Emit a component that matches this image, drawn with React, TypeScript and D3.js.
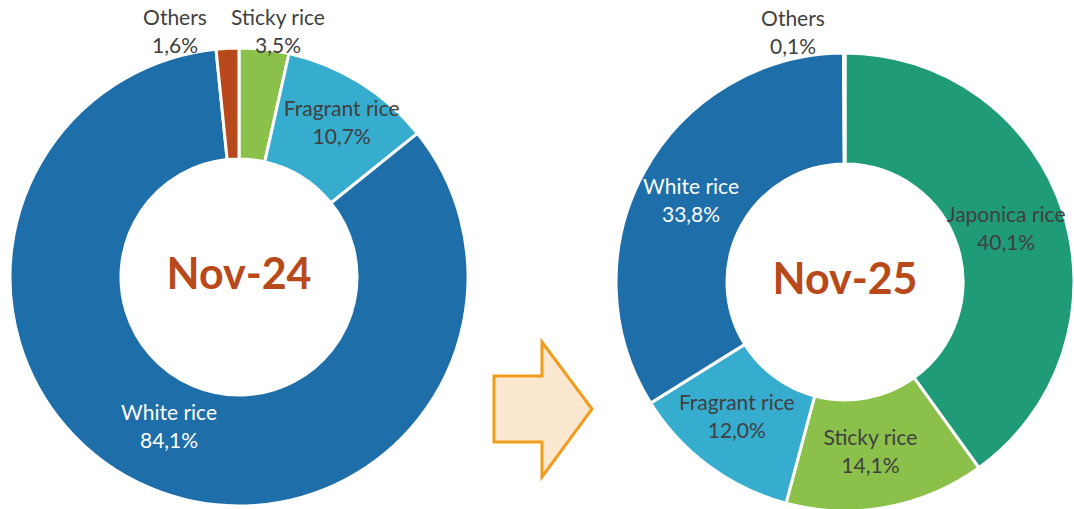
import React from "react";
import * as d3 from "d3";

const categoriesA = ["Sticky rice", "Fragrant rice", "White rice", "Others"];
const valuesA = [3.5, 10.7, 84.1, 1.6];
const categoriesB = ["Japonica rice", "Sticky rice", "Fragrant rice", "White rice", "Others"];
const valuesB = [40.1, 14.1, 12.0, 33.8, 0.1];
const titles = ["Nov-24", "Nov-25"];

const colorMap: Record<string, string> = {
  "Sticky rice": "#8BC04A",
  "Fragrant rice": "#36ADCE",
  "White rice": "#1E6EA9",
  "Others": "#B8491A",
  "Japonica rice": "#1F9B78",
};
const labelColor: Record<string, string> = {
  "White rice": "#FFFFFF",
};
// label layout: small slices are placed outside above the ring (abs), others at centroid + nudge
const outsideLabels: Record<string, Record<string, [number, number]>> = {
  "Nov-24": { "Sticky rice": [39, -17], "Others": [-64, -17] },
  "Nov-25": { "Others": [-52, -21] },
};
const nudges: Record<string, Record<string, [number, number]>> = {
  "Nov-24": { "White rice": [-3, -11], "Fragrant rice": [11, -7] },
  "Nov-25": { "White rice": [-2, 2], "Japonica rice": [-4, 0], "Fragrant rice": [-5, -5], "Sticky rice": [-6, -1] },
};

const FONT = "Lato, 'Open Sans', sans-serif";
const OUTER = 229;
const INNER = 118;

type D = { c: string; v: number };

function Donut({ cats, vals, title, cx, cy }: { cats: string[]; vals: number[]; title: string; cx: number; cy: number }) {
  const data: D[] = cats.map((c, i) => ({ c, v: vals[i] }));
  const pie = d3.pie<D>().value((d) => d.v).sort(null);
  const arcs = pie(data);
  const arc = d3.arc<d3.PieArcDatum<D>>().innerRadius(INNER).outerRadius(OUTER);
  return (
    <g transform={`translate(${cx},${cy})`}>
      {arcs.map((a, i) => (
        <path key={i} d={arc(a) || ""} fill={colorMap[a.data.c]} stroke="#fff" strokeWidth={3} strokeLinejoin="miter" />
      ))}
      {arcs.map((a, i) => {
        const pct = a.data.v.toFixed(1).replace(".", ",") + "%";
        const out = outsideLabels[title]?.[a.data.c];
        let x: number, y: number;
        if (out) {
          x = out[0];
          y = -OUTER + out[1];
        } else {
          const [px, py] = arc.centroid(a);
          const n = nudges[title]?.[a.data.c] || [0, 0];
          x = px + n[0];
          y = py + n[1];
        }
        const col = labelColor[a.data.c] || "#404040";
        return (
          <text key={"t" + i} textAnchor="middle" fontFamily={FONT} fontSize={21} fill={col}>
            <tspan x={x} y={y - 6.5}>{a.data.c}</tspan>
            <tspan x={x} y={y + 21.5}>{pct}</tspan>
          </text>
        );
      })}
      <text x={0} y={12} textAnchor="middle" fontFamily={FONT} fontWeight="bold" fontSize={43} fill="#B8491A">
        {title}
      </text>
    </g>
  );
}

export default function App() {
  const arrow = d3.line()([
    [494, 376],
    [542, 376],
    [542, 342],
    [592, 409],
    [542, 477],
    [542, 442],
    [494, 442],
  ]);
  return (
    <svg width={1074} height={509} style={{ position: "absolute", left: 0, top: 0, background: "#fff" }}>
      <Donut cats={categoriesA} vals={valuesA} title={titles[0]} cx={239} cy={277} />
      <path d={(arrow || "") + "Z"} fill="#FCE8D1" stroke="#F29C1E" strokeWidth={3} strokeLinejoin="miter" />
      <Donut cats={categoriesB} vals={valuesB} title={titles[1]} cx={845} cy={282} />
    </svg>
  );
}
